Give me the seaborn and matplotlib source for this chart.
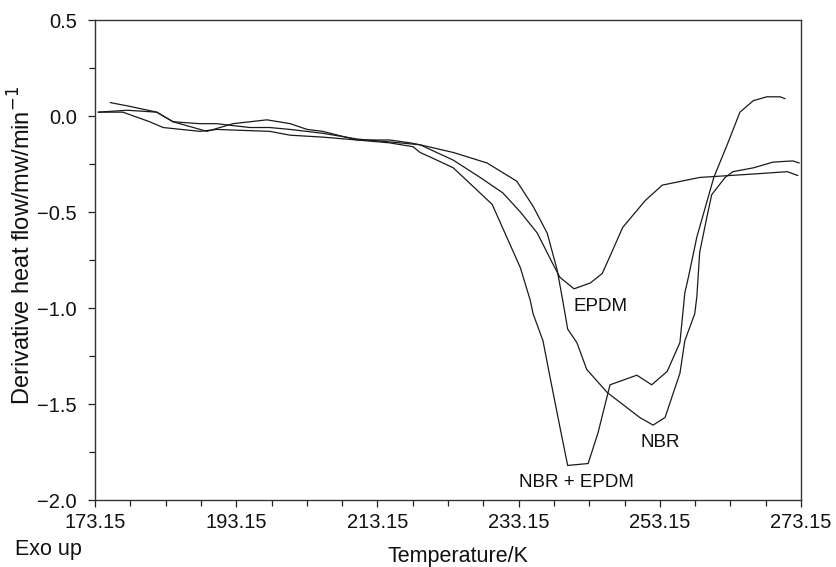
import numpy as np
import pandas as pd
import matplotlib
matplotlib.use("Agg")
import matplotlib.pyplot as plt
from matplotlib.ticker import MultipleLocator, FixedLocator
import seaborn as sns

# DSC derivative heat-flow curves (temperature in K, derivative heat flow in mW/min)
nbr_epdm_T = [173.6, 177.1, 180.9, 182.8, 188.0, 190.4, 197.9, 200.8, 205.4, 210.3,
              214.9, 218.2, 219.2, 221.0, 223.9, 229.4, 233.4, 234.8, 235.2, 236.6,
              237.6, 239.0, 240.1, 243.0, 244.4, 246.1, 249.9, 252.0, 254.2, 256.0,
              256.7, 257.2, 258.4, 260.8, 262.8, 264.5, 266.4, 268.3, 270.2, 270.9]
nbr_epdm_y = [0.02, 0.02, -0.03, -0.06, -0.08, -0.07, -0.08, -0.10, -0.11, -0.125,
              -0.14, -0.16, -0.19, -0.22, -0.27, -0.46, -0.79, -0.96, -1.03, -1.17,
              -1.36, -1.62, -1.82, -1.81, -1.65, -1.40, -1.35, -1.40, -1.33, -1.18,
              -0.92, -0.84, -0.63, -0.32, -0.14, 0.02, 0.08, 0.10, 0.10, 0.09]

nbr_T = [173.6, 177.7, 181.9, 184.2, 189.0, 192.7, 197.5, 200.8, 203.2, 205.4,
         210.3, 214.9, 217.8, 219.2, 223.9, 228.7, 232.9, 235.2, 237.2, 238.6,
         239.4, 240.1, 241.4, 242.8, 245.7, 250.3, 252.2, 253.9, 254.9, 256.0,
         256.7, 258.1, 258.4, 258.8, 259.8, 260.5, 262.4, 263.5, 266.4, 269.2,
         272.0, 272.9]
nbr_y = [0.02, 0.03, 0.02, -0.03, -0.08, -0.04, -0.02, -0.04, -0.07, -0.08,
         -0.125, -0.125, -0.14, -0.15, -0.19, -0.245, -0.34, -0.47, -0.61, -0.80,
         -0.96, -1.11, -1.18, -1.32, -1.44, -1.57, -1.61, -1.57, -1.46, -1.34,
         -1.17, -1.03, -0.94, -0.71, -0.53, -0.41, -0.32, -0.29, -0.27, -0.24,
         -0.234, -0.245]

epdm_T = [175.3, 178.1, 181.9, 184.2, 188.0, 190.4, 192.7, 195.1, 197.9, 200.8,
          205.4, 210.3, 214.9, 219.2, 223.9, 227.7, 230.9, 233.4, 235.8, 238.0,
          239.0, 241.0, 243.3, 245.0, 246.1, 247.9, 251.1, 253.5, 258.8, 267.3,
          271.2, 272.7]
epdm_y = [0.07, 0.05, 0.02, -0.03, -0.04, -0.04, -0.05, -0.06, -0.06, -0.07,
          -0.09, -0.12, -0.135, -0.15, -0.23, -0.32, -0.40, -0.50, -0.61, -0.77,
          -0.84, -0.90, -0.87, -0.82, -0.73, -0.58, -0.44, -0.36, -0.32, -0.30,
          -0.29, -0.31]

x_ticks = [173.15, 193.15, 213.15, 233.15, 253.15, 273.15]
y_ticks = [-2.0, -1.5, -1.0, -0.5, 0.0, 0.5]

curves = pd.concat([
    pd.DataFrame({"T": nbr_epdm_T, "dH": nbr_epdm_y, "sample": "NBR + EPDM"}),
    pd.DataFrame({"T": nbr_T, "dH": nbr_y, "sample": "NBR"}),
    pd.DataFrame({"T": epdm_T, "dH": epdm_y, "sample": "EPDM"}),
], ignore_index=True)

sns.set_style("ticks")
plt.rcParams["font.family"] = ["Liberation Sans", "DejaVu Sans"]

fig = plt.figure(figsize=(8.37, 5.67), dpi=100)
ax = fig.add_axes([95 / 837, 1 - 500 / 567, 706 / 837, 480 / 567])

sns.lineplot(data=curves, x="T", y="dH", units="sample", estimator=None,
             sort=False, color="#1a1a1a", linewidth=0.9, ax=ax)

ax.set_xlim(173.15, 273.15)
ax.set_ylim(-2.0, 0.5)
ax.xaxis.set_major_locator(FixedLocator(x_ticks))
ax.xaxis.set_minor_locator(MultipleLocator(5, offset=173.15))
ax.yaxis.set_major_locator(FixedLocator(y_ticks))
ax.yaxis.set_minor_locator(MultipleLocator(0.25))
ax.set_xticklabels([f"{v:.2f}" for v in x_ticks])
ax.set_yticklabels([f"{v:.1f}".replace("-", "\u2212") for v in y_ticks])

ax.tick_params(which="both", direction="out", colors="#222222", labelsize=14.5,
               width=0.9, labelcolor="#111111")
ax.tick_params(which="major", length=5)
ax.tick_params(which="minor", length=4)
ax.tick_params(axis="x", which="major", pad=4)
ax.tick_params(axis="y", which="major", pad=8)

for side in ["top", "right", "left", "bottom"]:
    ax.spines[side].set_visible(True)
    ax.spines[side].set_linewidth(1.0)
    ax.spines[side].set_color("#333333")

ax.set_xlabel("Temperature/K", fontsize=15.5, color="#111111")
ax.xaxis.set_label_coords((458 - 95) / 706, -0.095)
ax.set_ylabel(r"Derivative heat flow/mw/min$^{-1}$", fontsize=17, color="#111111")
ax.yaxis.set_label_coords((36 - 95) / 706, 0.53)

ax.text(244.7, -0.99, "EPDM", fontsize=13.5, ha="center", va="center", color="#111111")
ax.text(253.2, -1.70, "NBR", fontsize=13.5, ha="center", va="center", color="#111111")
ax.text(241.3, -1.91, "NBR + EPDM", fontsize=13.5, ha="center", va="center", color="#111111")

fig.text(15 / 837, 1 - 550 / 567, "Exo up", fontsize=15.5, ha="left", va="center",
         color="#111111")

legend = ax.get_legend()
if legend is not None:
    legend.remove()

fig.savefig("out.png", dpi=100)
